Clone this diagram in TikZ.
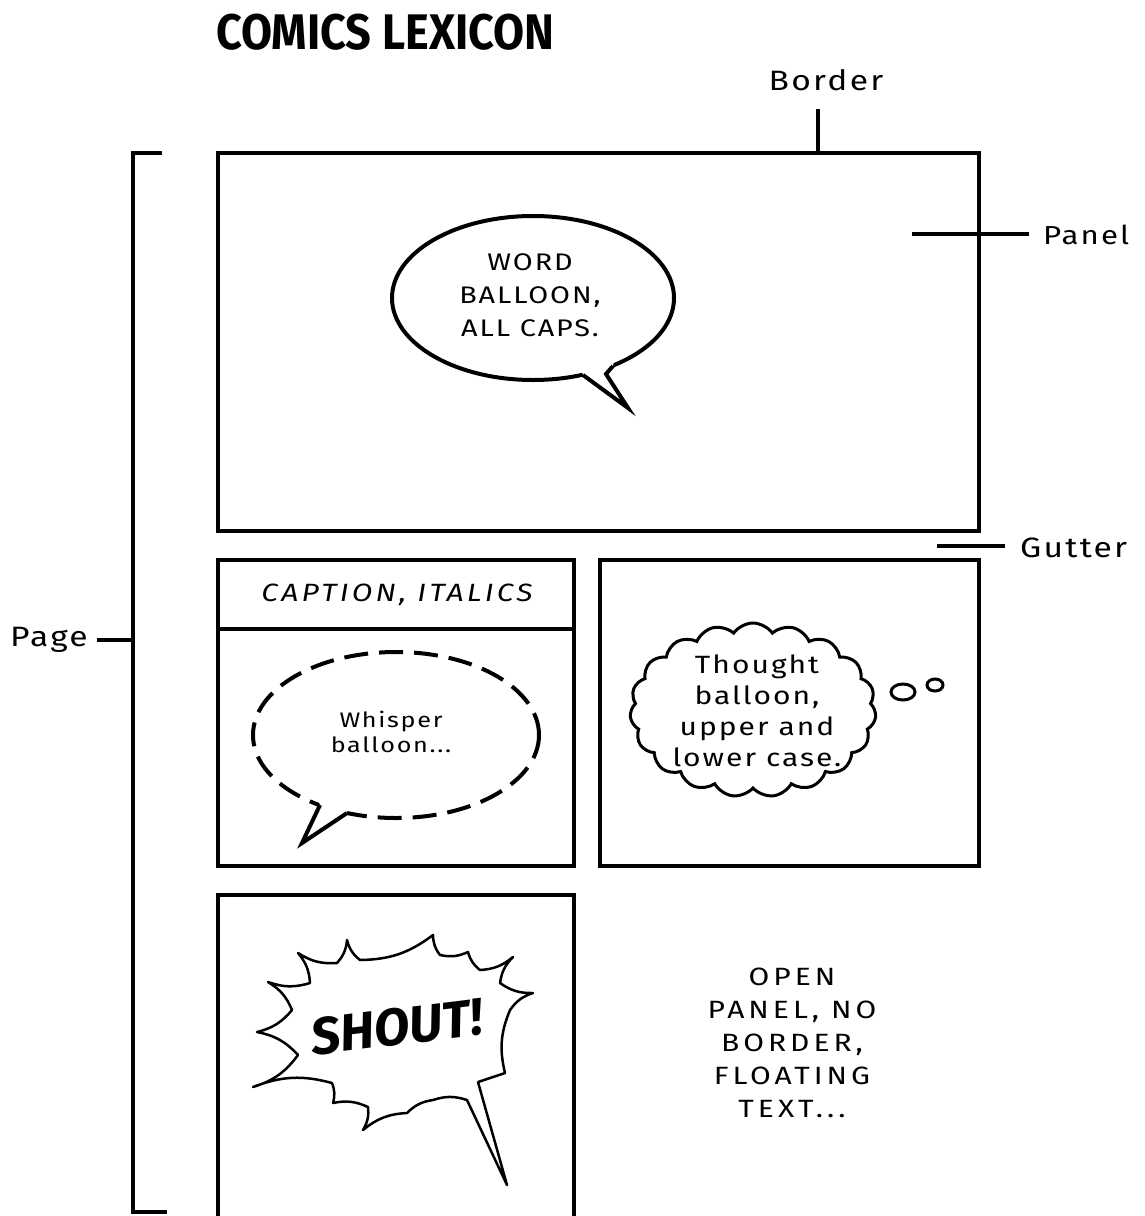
\documentclass[tikz,border=0pt]{standalone}
\usepackage{fontspec}
\setmainfont{Fira Sans}
\newfontfamily\comicA{Fira Sans}[FakeStretch=1.2,LetterSpace=8]
\newfontfamily\comicB{Fira Sans}[FakeStretch=1.2,LetterSpace=16]
\newfontfamily\comicC{Fira Sans}[FakeStretch=1.2,LetterSpace=13]
\newfontfamily\titlefont{Fira Sans}
\usetikzlibrary{shapes.symbols}
\begin{document}
\begin{tikzpicture}[x=1pt,y=-1pt,
  panelbox/.style={draw=black,line width=4,line join=miter},
  marker/.style={draw=black,line width=4},
  lbl/.style={font=\comicA\fontsize{28}{30}\selectfont,inner sep=0},
  ltext/.style={font=\comicA\fontsize{24}{33}\selectfont,align=center,inner sep=0},
  balloonline/.style={draw=black,line width=4,line join=miter},
]
\useasboundingbox[fill=white] (0,0) rectangle (1144,1216);

% title
\node[anchor=west,font=\titlefont\bfseries\fontsize{50}{50}\selectfont,inner sep=0] (title) at (216,32) {\scalebox{0.9}[1]{COMICS LEXICON}};

% panels
\draw[panelbox] (218,153) rectangle (979,531);
\draw[panelbox] (218,560) rectangle (574,866);
\draw[panelbox] (218,629) -- (574,629);
\draw[panelbox] (600,560) rectangle (979,866);
\draw[panelbox] (218,1222) -- (218,895) -- (574,895) -- (574,1222);

% page bracket
\draw[line width=3.5] (162,153) -- (133,153) -- (133,1212) -- (167,1212);

% labels and markers
\node[lbl] (border) at (826,80) {Border};
\coordinate (borderTop) at (818,109);
\coordinate (borderEdge) at (818,153);
\draw[marker] (borderTop) -- (borderEdge);

\node[lbl,anchor=west,font=\comicA\fontsize{26}{30}\selectfont] (panel) at (1043,235) {Panel};
\coordinate (panelL) at (912,234);
\coordinate (panelR) at (1029,234);
\draw[marker] (panelL) -- (panelR);

\node[lbl,anchor=west] (gutter) at (1020,548) {Gutter};
\coordinate (gutterL) at (937,546);
\coordinate (gutterR) at (1005,546);
\draw[marker] (gutterL) -- (gutterR);

\node[lbl,anchor=west] (page) at (10,640) {Page};
\coordinate (pageL) at (97,640);
\coordinate (pageR) at (133,640);
\draw[marker] (pageL) -- (pageR);

% word balloon
\draw[balloonline] (533,298) ellipse [x radius=141, y radius=82];
\fill[white] (583,375) -- (628,408) -- (606,374) -- (613,366) -- (614,360) -- (581,369) -- cycle;
\draw[balloonline] (583,375) -- (628,408) -- (606,374) -- (613,366);
\node[ltext] (word) at (530,295) {WORD\\BALLOON,\\ALL CAPS.};

% caption
\node[font=\comicC\itshape\fontsize{25}{30}\selectfont,inner sep=0] (caption) at (397,595) {CAPTION, ITALICS};

% whisper balloon
\draw[line width=4,dash pattern=on 24pt off 11pt] (396,735) ellipse [x radius=143, y radius=83];
\fill[white] (320,805) -- (302,843) -- (347,813) -- (348,806) -- (318,799) -- cycle;
\draw[balloonline] (320,805) -- (302,843) -- (347,813);
\node[font=\comicA\fontsize{21}{25}\selectfont,align=center,inner sep=0] (whisper) at (391,732) {Whisper\\balloon...};

% thought balloon
\node[cloud,draw=black,line width=3,cloud puffs=19,cloud puff arc=110,aspect=1.4,
  minimum width=246,minimum height=174,inner sep=0] (thought) at (753,710) {};
\draw[line width=3] (903,692) ellipse [x radius=12, y radius=8];
\draw[line width=3] (935,685) ellipse [x radius=8, y radius=6];
\node[font=\comicA\fontsize{25}{31}\selectfont,align=center,inner sep=0] (thoughttext) at (757,711) {Thought\\balloon,\\upper and\\lower case.};

% shout balloon
\draw[line width=2.5,line join=round,fill=white,every to/.style={bend right=18}]
  (253,1087) to (298,1055) to (257,1032) to (292,1010) to (268,982) to (310,983)
  to (298,953) to (337,963) to (347,940) to (360,960) to (433,935) to (440,955)
  to (468,952) to (480,970) to (513,957) to (500,983) to (533,993) to (510,1010)
  to (505,1073) -- (478,1082) -- (507,1185) -- (467,1100) to (433,1100)
  to (407,1113) to (363,1130) to (368,1107) to (333,1103) to (332,1083) to (253,1087) -- cycle;
\node[font=\titlefont\bfseries\itshape\fontsize{52}{52}\selectfont,rotate=7,inner sep=0] (shout) at (397,1027) {SHOUT!};

% open panel text
\node[font=\comicB\fontsize{25}{33}\selectfont,align=center,inner sep=0] (open) at (792,1043) {OPEN\\PANEL, NO\\BORDER,\\FLOATING\\TEXT...};
\end{tikzpicture}
\end{document}
